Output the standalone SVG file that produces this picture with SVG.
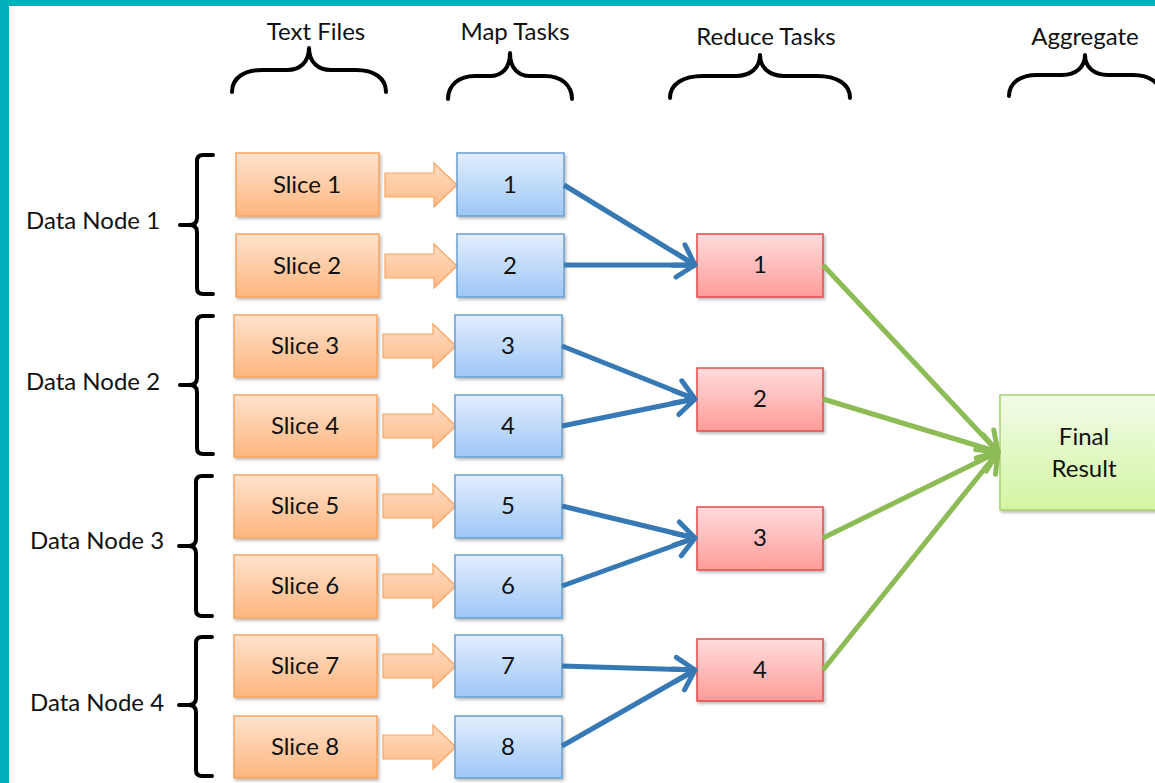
<svg xmlns="http://www.w3.org/2000/svg" width="1155" height="783" viewBox="0 0 1155 783">
  <defs>
    <linearGradient id="gOrange" x1="0" y1="0" x2="0" y2="1">
      <stop offset="0" stop-color="#FFE3CE"/>
      <stop offset="1" stop-color="#FDB57E"/>
    </linearGradient>
    <linearGradient id="gBlue" x1="0" y1="0" x2="0" y2="1">
      <stop offset="0" stop-color="#E2EEFD"/>
      <stop offset="1" stop-color="#9DC7F6"/>
    </linearGradient>
    <linearGradient id="gRed" x1="0" y1="0" x2="0" y2="1">
      <stop offset="0" stop-color="#FFDCDC"/>
      <stop offset="1" stop-color="#FF9C98"/>
    </linearGradient>
    <linearGradient id="gGreen" x1="0" y1="0" x2="0" y2="1">
      <stop offset="0" stop-color="#F2FBE8"/>
      <stop offset="1" stop-color="#D3F5A2"/>
    </linearGradient>
    <linearGradient id="gArrow" x1="0" y1="0" x2="0" y2="1">
      <stop offset="0" stop-color="#FFDCC0"/>
      <stop offset="1" stop-color="#FDBB8A"/>
    </linearGradient>
    <filter id="shadow" x="-10%" y="-10%" width="130%" height="140%">
      <feDropShadow dx="1.5" dy="2" stdDeviation="1.5" flood-color="#000" flood-opacity="0.28"/>
    </filter>
    <marker id="headBlue" markerUnits="userSpaceOnUse" viewBox="0 0 26 32" markerWidth="26" markerHeight="32" refX="23" refY="16" orient="auto">
      <path d="M4,4 L23,16 L4,28" fill="none" stroke="#3779B5" stroke-width="5" stroke-linecap="round" stroke-linejoin="round"/>
    </marker>
    <marker id="headGreen" markerUnits="userSpaceOnUse" viewBox="0 0 26 32" markerWidth="26" markerHeight="32" refX="23" refY="16" orient="auto">
      <path d="M4,4 L23,16 L4,28" fill="none" stroke="#8DBB55" stroke-width="5" stroke-linecap="round" stroke-linejoin="round"/>
    </marker>
  </defs>
  <style>
    text { font-family: Lato, "Liberation Sans", sans-serif; fill: #111; }
    .lbl { font-size: 24px; text-anchor: middle; }
    .slice rect { fill: url(#gOrange); stroke: #F9A561; stroke-width: 1.5; filter: url(#shadow); }
    .map rect { fill: url(#gBlue); stroke: #6A9FD2; stroke-width: 1.5; filter: url(#shadow); }
    .reduce rect { fill: url(#gRed); stroke: #E24B4B; stroke-width: 1.5; filter: url(#shadow); }
    .final rect { fill: url(#gGreen); stroke: #A9D473; stroke-width: 1.5; filter: url(#shadow); }
    .feed { fill: url(#gArrow); stroke: #F9A561; stroke-width: 1.2; }
    .brace { fill: none; stroke: #000; stroke-width: 4; stroke-linecap: round; stroke-linejoin: round; }
    .blue { fill: none; stroke: #3779B5; stroke-width: 5; marker-end: url(#headBlue); }
    .green { fill: none; stroke: #8DBB55; stroke-width: 5; marker-end: url(#headGreen); }
  </style>

  <!-- page frame -->
  <rect x="0" y="0" width="1155" height="783" fill="#FFFFFF"/>
  <rect x="0" y="0" width="1155" height="6" fill="#00AFB9"/>
  <rect x="0" y="0" width="9" height="783" fill="#00AFB9"/>

  <!-- column headings with curly braces -->
  <g id="heading-text-files">
    <text class="lbl" x="316" y="40">Text Files</text>
    <path class="brace" d="M232,92 C232,78 244,70 262,70 L287,70 C300,70 309,62 309,48 C309,62 318,70 331,70 L356,70 C374,70 386,78 386,92"/>
  </g>
  <g id="heading-map-tasks">
    <text class="lbl" x="515" y="40">Map Tasks</text>
    <path class="brace" d="M448,99 C448,85 459,76 475,76 L490,76 C502,76 510,68 510,53 C510,68 518,76 530,76 L545,76 C561,76 572,85 572,99"/>
  </g>
  <g id="heading-reduce-tasks">
    <text class="lbl" x="766" y="45">Reduce Tasks</text>
    <path class="brace" d="M670,98 C670,84 683,76 703,76 L736,76 C750,76 760,68 760,55 C760,68 770,76 784,76 L817,76 C837,76 850,84 850,98"/>
  </g>
  <g id="heading-aggregate">
    <text class="lbl" x="1085" y="45">Aggregate</text>
    <path class="brace" d="M1009,96 C1009,83 1020,75 1037,75 L1062,75 C1076,75 1085,67 1085,55 C1085,67 1094,75 1108,75 L1133,75 C1150,75 1161,83 1161,96"/>
  </g>

  <!-- data node groupings -->
  <g id="data-node-1">
    <text class="lbl" x="93" y="229">Data Node 1</text>
    <path class="brace" d="M213,155 L203,155 Q197,155 197,161 L197,218 Q197,225 189,225 L180,225 M189,225 Q197,225 197,232 L197,288 Q197,294 203,294 L213,294"/>
  </g>
  <g id="data-node-2">
    <text class="lbl" x="93" y="390">Data Node 2</text>
    <path class="brace" d="M213,316 L203,316 Q197,316 197,322 L197,378 Q197,385 189,385 L180,385 M189,385 Q197,385 197,392 L197,448 Q197,454 203,454 L213,454"/>
  </g>
  <g id="data-node-3">
    <text class="lbl" x="97" y="549">Data Node 3</text>
    <path class="brace" d="M212,476 L202,476 Q196,476 196,482 L196,539 Q196,546 188,546 L179,546 M188,546 Q196,546 196,553 L196,610 Q196,616 202,616 L212,616"/>
  </g>
  <g id="data-node-4">
    <text class="lbl" x="97" y="711">Data Node 4</text>
    <path class="brace" d="M212,637 L202,637 Q196,637 196,643 L196,698 Q196,705 188,705 L179,705 M188,705 Q196,705 196,712 L196,770 Q196,776 202,776 L212,776"/>
  </g>

  <!-- input slices -->
  <g id="slice-1" class="slice"><rect x="236" y="153" width="143" height="63"/><text class="lbl" x="307" y="193">Slice 1</text></g>
  <g id="slice-2" class="slice"><rect x="236" y="234" width="143" height="63"/><text class="lbl" x="307" y="274">Slice 2</text></g>
  <g id="slice-3" class="slice"><rect x="234" y="315" width="143" height="62"/><text class="lbl" x="305" y="354">Slice 3</text></g>
  <g id="slice-4" class="slice"><rect x="234" y="395" width="143" height="62"/><text class="lbl" x="305" y="434">Slice 4</text></g>
  <g id="slice-5" class="slice"><rect x="234" y="475" width="143" height="63"/><text class="lbl" x="305" y="514">Slice 5</text></g>
  <g id="slice-6" class="slice"><rect x="234" y="555" width="143" height="63"/><text class="lbl" x="305" y="594">Slice 6</text></g>
  <g id="slice-7" class="slice"><rect x="234" y="635" width="143" height="62"/><text class="lbl" x="305" y="674">Slice 7</text></g>
  <g id="slice-8" class="slice"><rect x="234" y="716" width="143" height="62"/><text class="lbl" x="305" y="755">Slice 8</text></g>

  <!-- slice-to-map block arrows -->
  <g id="feed-arrows">
    <path class="feed" d="M385,173 L434,173 L434,163 L457,185 L434,207 L434,197 L385,197 Z"/>
    <path class="feed" d="M385,254 L434,254 L434,244 L457,266 L434,288 L434,278 L385,278 Z"/>
    <path class="feed" d="M383,334 L433,334 L433,324 L456,346 L433,368 L433,358 L383,358 Z"/>
    <path class="feed" d="M383,414 L433,414 L433,404 L456,426 L433,448 L433,438 L383,438 Z"/>
    <path class="feed" d="M383,494 L433,494 L433,484 L456,506 L433,528 L433,518 L383,518 Z"/>
    <path class="feed" d="M383,574 L433,574 L433,564 L456,586 L433,608 L433,598 L383,598 Z"/>
    <path class="feed" d="M383,654 L433,654 L433,644 L456,666 L433,688 L433,678 L383,678 Z"/>
    <path class="feed" d="M383,735 L433,735 L433,725 L456,747 L433,769 L433,759 L383,759 Z"/>
  </g>

  <!-- map tasks -->
  <g id="map-1" class="map"><rect x="457" y="153" width="107" height="63"/><text class="lbl" x="510" y="193">1</text></g>
  <g id="map-2" class="map"><rect x="457" y="234" width="107" height="63"/><text class="lbl" x="510" y="274">2</text></g>
  <g id="map-3" class="map"><rect x="455" y="315" width="107" height="62"/><text class="lbl" x="508" y="354">3</text></g>
  <g id="map-4" class="map"><rect x="455" y="395" width="107" height="62"/><text class="lbl" x="508" y="434">4</text></g>
  <g id="map-5" class="map"><rect x="455" y="475" width="107" height="63"/><text class="lbl" x="508" y="514">5</text></g>
  <g id="map-6" class="map"><rect x="455" y="555" width="107" height="63"/><text class="lbl" x="508" y="594">6</text></g>
  <g id="map-7" class="map"><rect x="455" y="635" width="107" height="62"/><text class="lbl" x="508" y="674">7</text></g>
  <g id="map-8" class="map"><rect x="455" y="716" width="107" height="62"/><text class="lbl" x="508" y="755">8</text></g>

  <!-- reduce tasks -->
  <g id="reduce-1" class="reduce"><rect x="697" y="234" width="126" height="63"/><text class="lbl" x="760" y="273">1</text></g>
  <g id="reduce-2" class="reduce"><rect x="697" y="368" width="126" height="63"/><text class="lbl" x="760" y="407">2</text></g>
  <g id="reduce-3" class="reduce"><rect x="697" y="507" width="126" height="63"/><text class="lbl" x="760" y="546">3</text></g>
  <g id="reduce-4" class="reduce"><rect x="697" y="639" width="126" height="62"/><text class="lbl" x="760" y="678">4</text></g>

  <!-- aggregate result -->
  <g id="final-result" class="final">
    <rect x="1000" y="395" width="165" height="115"/>
    <text class="lbl" x="1084" y="445">Final</text>
    <text class="lbl" x="1084" y="477">Result</text>
  </g>

  <!-- connectors -->
  <g id="connectors">
    <line class="blue" x1="564" y1="185" x2="695" y2="265"/>
    <line class="blue" x1="564" y1="265" x2="695" y2="265"/>
    <line class="blue" x1="562" y1="346" x2="695" y2="399"/>
    <line class="blue" x1="562" y1="426" x2="695" y2="399"/>
    <line class="blue" x1="562" y1="506" x2="695" y2="538"/>
    <line class="blue" x1="562" y1="586" x2="695" y2="538"/>
    <line class="blue" x1="562" y1="666" x2="695" y2="670"/>
    <line class="blue" x1="562" y1="746" x2="695" y2="670"/>
    <line class="green" x1="823" y1="265" x2="998" y2="452"/>
    <line class="green" x1="823" y1="399" x2="998" y2="452"/>
    <line class="green" x1="823" y1="538" x2="998" y2="452"/>
    <line class="green" x1="823" y1="670" x2="998" y2="452"/>
  </g>
</svg>
